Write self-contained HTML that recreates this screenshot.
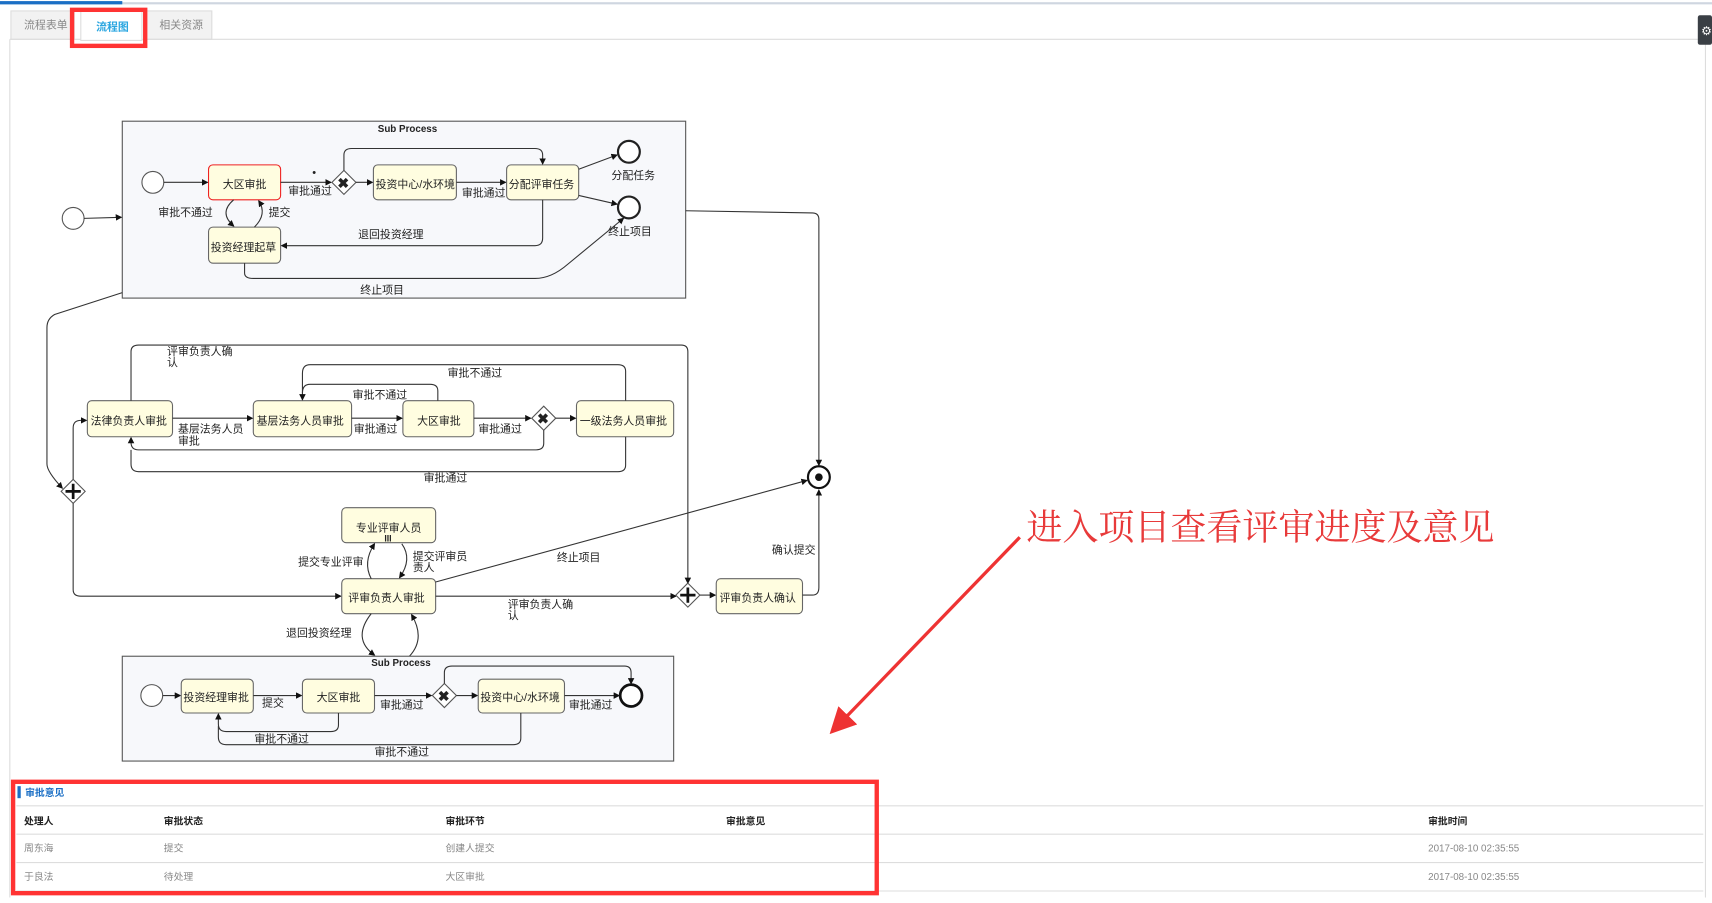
<!DOCTYPE html>
<html><head><meta charset="utf-8"><style>
html,body{margin:0;padding:0;background:#fff;}
svg{display:block;}
text{font-family:"Liberation Sans","Noto Sans CJK SC",sans-serif;font-size:10px;fill:#222;}
.t{fill:#fffde0;stroke:#666;stroke-width:1;}
.l{fill:none;stroke:#333;stroke-width:1;}
.g{fill:#fff;stroke:#555;}
</style></head><body>
<svg width="1712" height="903" viewBox="0 0 1568 827" preserveAspectRatio="none" xmlns="http://www.w3.org/2000/svg">
<defs><marker id="a" markerWidth="6" markerHeight="6" refX="5" refY="3" orient="auto"><path d="M0,0L6,3L0,6z" fill="#111"/></marker>
<marker id="r" markerWidth="8" markerHeight="8" refX="6" refY="4" orient="auto"><path d="M0,0L8,4L0,8z" fill="#e33"/></marker></defs>
<!-- top chrome -->
<rect x="0" y="2" width="1568" height="2" fill="#cfd6e0"/><rect x="0" y="1" width="112" height="3" fill="#1b6fc5"/>
<rect x="10" y="10" width="58" height="26" fill="#f2f2f2" stroke="#ddd"/><text x="22" y="26" style="fill:#888">流程表单</text>
<rect x="74" y="10" width="56" height="27" fill="#fff" stroke="#ddd"/><text x="88" y="28" style="fill:#2aa6e0;font-weight:bold">流程图</text>
<rect x="134" y="10" width="60" height="26" fill="#f2f2f2" stroke="#ddd"/><text x="146" y="26" style="fill:#888">相关资源</text>
<line x1="130" y1="36" x2="1562" y2="36" stroke="#ddd"/><line x1="9" y1="36" x2="74" y2="36" stroke="#ddd"/>
<line x1="9" y1="36" x2="9" y2="822" stroke="#ddd"/><line x1="1562" y1="36" x2="1562" y2="822" stroke="#ddd"/>
<rect x="66" y="9" width="67" height="33" fill="none" stroke="#f33" stroke-width="4"/>
<rect x="1555" y="14" width="13" height="27" rx="2" fill="#3a3f45"/><text x="1558" y="32" style="fill:#fff;font-size:11px">⚙</text>
<!-- subprocess 1 -->
<rect x="112" y="111" width="516" height="162" fill="#f7f8fb" stroke="#555"/>
<text x="346" y="121" style="font-size:9px;font-weight:bold">Sub Process</text>
<circle cx="67" cy="200" r="10" class="g"/><path class="l" d="M77,200L111,199" marker-end="url(#a)"/>
<circle cx="140" cy="167" r="10" class="g"/><path class="l" d="M150,167L190,167" marker-end="url(#a)"/>
<rect x="191" y="151" width="66" height="32" rx="4" class="t" style="stroke:#e22"/><text x="204" y="172">大区审批</text>
<path class="l" d="M257,167L303,167" marker-end="url(#a)"/><text x="264" y="178">审批通过</text><text x="286" y="161">•</text>
<path d="M315,156L326,167L315,178L304,167z" class="g"/><text x="309" y="172" style="font-size:13px;font-weight:bold">✖</text>
<path class="l" d="M326,167L341,167" marker-end="url(#a)"/>
<rect x="342" y="151" width="76" height="32" rx="4" class="t"/><text x="344" y="172">投资中心/水环境</text>
<path class="l" d="M418,167L463,167" marker-end="url(#a)"/><text x="423" y="180">审批通过</text>
<rect x="464" y="151" width="66" height="32" rx="4" class="t"/><text x="466" y="172">分配评审任务</text>
<path class="l" d="M315,156L315,142Q315,136 322,136L490,136Q497,136 497,142L497,150" marker-end="url(#a)"/>
<circle cx="576" cy="139" r="10" class="g" style="stroke:#222;stroke-width:2"/><text x="560" y="164">分配任务</text>
<circle cx="576" cy="190" r="10" class="g" style="stroke:#222;stroke-width:2"/><text x="557" y="215">终止项目</text>
<path class="l" d="M530,155L565,142" marker-end="url(#a)"/><path class="l" d="M530,179L565,187" marker-end="url(#a)"/>
<rect x="191" y="208" width="66" height="33" rx="4" class="t"/><text x="193" y="230">投资经理起草</text>
<path class="l" d="M214,183Q200,195 214,207" marker-end="url(#a)"/><path class="l" d="M233,208Q245,196 237,184" marker-end="url(#a)"/>
<text x="145" y="198">审批不通过</text><text x="246" y="198">提交</text>
<path class="l" d="M497,183L497,218Q497,225 490,225L258,225" marker-end="url(#a)"/><text x="328" y="218">退回投资经理</text>
<path class="l" d="M224,241L224,250Q224,255 232,255L490,255Q505,255 520,242L571,200" marker-end="url(#a)"/><text x="330" y="269">终止项目</text>
<path class="l" d="M628,193L744,195Q750,195 750,201L750,426" marker-end="url(#a)"/>
<path class="l" d="M112,268L50,288Q43,292 43,300L43,425Q43,432 57,447" marker-end="url(#a)"/>
<!-- middle -->
<rect x="80" y="367" width="78" height="33" rx="4" class="t"/><text x="83" y="389">法律负责人审批</text>
<rect x="232" y="367" width="90" height="33" rx="4" class="t"/><text x="235" y="389">基层法务人员审批</text>
<rect x="369" y="367" width="65" height="33" rx="4" class="t"/><text x="382" y="389">大区审批</text>
<path d="M498,372L509,383L498,394L487,383z" class="g"/><text x="492" y="388" style="font-size:13px;font-weight:bold">✖</text>
<rect x="528" y="367" width="89" height="33" rx="4" class="t"/><text x="531" y="389">一级法务人员审批</text>
<path class="l" d="M158,383L231,383" marker-end="url(#a)"/><text x="163" y="396">基层法务人员</text><text x="163" y="407">审批</text>
<path class="l" d="M322,383L368,383" marker-end="url(#a)"/><text x="324" y="396">审批通过</text>
<path class="l" d="M434,383L486,383" marker-end="url(#a)"/><text x="438" y="396">审批通过</text>
<path class="l" d="M509,383L527,383" marker-end="url(#a)"/>
<path class="l" d="M120,367L120,322Q120,316 127,316L624,316Q630,316 630,322L630,534" marker-end="url(#a)"/><text x="153" y="325">评审负责人确</text><text x="153" y="335">认</text>
<path class="l" d="M573,367L573,340Q573,334 566,334L284,334Q277,334 277,342L277,366" marker-end="url(#a)"/><text x="410" y="345">审批不通过</text>
<path class="l" d="M401,367L401,358Q401,352 394,352L284,352Q277,352 277,360"/><text x="323" y="365">审批不通过</text>
<path class="l" d="M498,394L498,406Q498,412 491,412L127,412Q120,412 120,405L120,401" marker-end="url(#a)"/>
<path class="l" d="M573,400L573,426Q573,432 566,432L127,432Q120,432 120,425L120,412"/><text x="388" y="441">审批通过</text>
<path d="M67,439L78,450L67,461L56,450z" class="g"/><path d="M67,443V457M60,450H74" stroke="#111" stroke-width="2.5"/>
<path class="l" d="M67,439L67,392Q67,385 74,385L79,385" marker-end="url(#a)"/>
<path class="l" d="M67,461L67,540Q67,546 74,546L312,546" marker-end="url(#a)"/>
<rect x="313" y="465" width="86" height="32" rx="4" class="t"/><text x="326" y="487">专业评审人员</text><text x="352" y="496" style="font-size:8px;font-weight:bold">III</text>
<rect x="313" y="530" width="86" height="32" rx="4" class="t"/><text x="319" y="551">评审负责人审批</text>
<path class="l" d="M340,530Q332,515 343,498" marker-end="url(#a)"/><path class="l" d="M368,498Q378,512 366,529" marker-end="url(#a)"/>
<text x="273" y="518">提交专业评审</text><text x="378" y="513">提交评审员</text><text x="378" y="523">责人</text>
<path class="l" d="M399,546L619,546" marker-end="url(#a)"/><text x="465" y="557">评审负责人确</text><text x="465" y="567">认</text>
<path class="l" d="M399,533L739,440" marker-end="url(#a)"/><text x="510" y="514">终止项目</text>
<path d="M630,534L641,545L630,556L619,545z" class="g"/><path d="M630,538V552M623,545H637" stroke="#111" stroke-width="2.5"/>
<path class="l" d="M641,545L655,545" marker-end="url(#a)"/>
<rect x="656" y="530" width="79" height="32" rx="4" class="t"/><text x="659" y="551">评审负责人确认</text>
<path class="l" d="M735,545L744,545Q750,545 750,538L750,449" marker-end="url(#a)"/><text x="707" y="507">确认提交</text>
<circle cx="750" cy="437" r="10" class="g" style="stroke:#111;stroke-width:2"/><circle cx="750" cy="437" r="3.5" fill="#111"/>
<path class="l" d="M340,562Q322,585 343,600" marker-end="url(#a)"/><path class="l" d="M375,601Q390,585 377,563" marker-end="url(#a)"/>
<text x="262" y="583">退回投资经理</text>
<!-- subprocess 2 -->
<rect x="112" y="601" width="505" height="96" fill="#f7f8fb" stroke="#555"/>
<text x="340" y="610" style="font-size:9px;font-weight:bold">Sub Process</text>
<circle cx="139" cy="637" r="10" class="g"/><path class="l" d="M149,637L165,637" marker-end="url(#a)"/>
<rect x="166" y="622" width="66" height="31" rx="4" class="t"/><text x="168" y="642">投资经理审批</text>
<path class="l" d="M232,637L276,637" marker-end="url(#a)"/><text x="240" y="647">提交</text>
<rect x="277" y="622" width="66" height="31" rx="4" class="t"/><text x="290" y="642">大区审批</text>
<path class="l" d="M343,637L395,637" marker-end="url(#a)"/><text x="348" y="649">审批通过</text>
<path d="M407,626L418,637L407,648L396,637z" class="g"/><text x="401" y="642" style="font-size:13px;font-weight:bold">✖</text>
<path class="l" d="M418,637L437,637" marker-end="url(#a)"/>
<rect x="438" y="622" width="79" height="31" rx="4" class="t"/><text x="440" y="642">投资中心/水环境</text>
<path class="l" d="M517,637L567,637" marker-end="url(#a)"/><text x="521" y="649">审批通过</text>
<circle cx="578" cy="637" r="10" class="g" style="stroke:#111;stroke-width:2.5"/>
<path class="l" d="M407,626L407,616Q407,610 414,610L572,610Q578,610 578,616L578,626" marker-end="url(#a)"/>
<path class="l" d="M310,653L310,664Q310,670 303,670L207,670Q200,670 200,663L200,654" marker-end="url(#a)"/><text x="233" y="680">审批不通过</text>
<path class="l" d="M477,653L477,676Q477,682 470,682L207,682Q200,682 200,675L200,665"/><text x="343" y="692">审批不通过</text>
<!-- annotation -->
<text x="940" y="494" style="font-size:33px;fill:#e83a3a;font-family:'Noto Serif CJK SC','Liberation Serif',serif">进入项目查看评审进度及意见</text>
<path d="M934,492L764,668" stroke="#e33" stroke-width="3" fill="none" marker-end="url(#r)"/>
<!-- table -->
<rect x="16" y="720" width="3" height="11" fill="#1b6fc5"/><text x="23" y="729" style="fill:#1b6fc5;font-weight:bold;font-size:9px">审批意见</text>
<g stroke="#ddd"><line x1="15" y1="738" x2="1560" y2="738"/><line x1="15" y1="764" x2="1560" y2="764"/><line x1="15" y1="790" x2="1560" y2="790"/><line x1="15" y1="816" x2="1560" y2="816"/></g>
<g style="font-size:9px"><text x="22" y="755" style="font-weight:bold;font-size:9px">处理人</text><text x="150" y="755" style="font-weight:bold;font-size:9px">审批状态</text><text x="408" y="755" style="font-weight:bold;font-size:9px">审批环节</text><text x="665" y="755" style="font-weight:bold;font-size:9px">审批意见</text><text x="1308" y="755" style="font-weight:bold;font-size:9px">审批时间</text></g>
<text x="22" y="780" style="fill:#888;font-size:9px">周东海</text><text x="150" y="780" style="fill:#888;font-size:9px">提交</text><text x="408" y="780" style="fill:#888;font-size:9px">创建人提交</text><text x="1308" y="780" style="fill:#888;font-size:9px">2017-08-10 02:35:55</text>
<text x="22" y="806" style="fill:#888;font-size:9px">于良法</text><text x="150" y="806" style="fill:#888;font-size:9px">待处理</text><text x="408" y="806" style="fill:#888;font-size:9px">大区审批</text><text x="1308" y="806" style="fill:#888;font-size:9px">2017-08-10 02:35:55</text>
<rect x="12" y="716" width="791" height="102" fill="none" stroke="#f33" stroke-width="4"/>
</svg>
</body></html>
